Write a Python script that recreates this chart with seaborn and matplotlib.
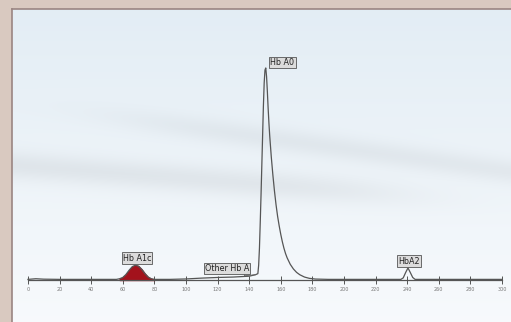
import numpy as np
import pandas as pd
import matplotlib
matplotlib.use("Agg")
import matplotlib.pyplot as plt
import seaborn as sns

# chromatogram trace (retention position, signal)
trace_x = [0, 5, 10, 20, 30, 40, 50, 56, 58, 60, 62, 64, 66, 68, 70, 72, 74, 76, 78, 80,
           90, 100, 110, 120, 130, 140, 144, 145.5, 146, 146.5, 147, 147.5, 148, 148.5,
           149, 149.5, 150, 150.5, 151, 151.5, 152, 152.5, 153, 154, 155, 156, 157, 158,
           159, 160, 161, 162, 163, 164, 166, 168, 170, 172, 175, 178, 182, 190, 200,
           220, 236, 237.5, 239, 240.5, 242, 243.5, 245, 260, 280, 300]
trace_y = [0.3, 0.6, 0.4, 0.3, 0.3, 0.3, 0.3, 0.3, 0.6, 1.2, 2.6, 4.6, 6.3, 7.0, 6.5, 5.0,
           3.0, 1.4, 0.6, 0.3, 0.3, 0.5, 0.9, 1.2, 1.4, 1.8, 2.5, 3.0, 7.0, 15.0, 27.0,
           40.0, 54.0, 68.0, 82.0, 93.0, 99.0, 100.0, 96.0, 89.0, 81.0, 74.0, 68.0, 58.0,
           49.5, 42.0, 35.5, 30.0, 25.5, 21.5, 18.0, 15.0, 12.5, 10.5, 7.4, 5.2, 3.6, 2.5,
           1.4, 0.8, 0.45, 0.3, 0.3, 0.3, 0.3, 1.0, 3.5, 5.7, 3.5, 1.2, 0.3, 0.3, 0.3, 0.3]

# HbA1c area shaded in red
a1c_range = (57, 80)

peak_labels = ["Hb A1c", "Other Hb A", "Hb A0", "HbA2"]
label_x = [69, 126, 161, 241]
label_y = [8.2, 3.4, 100.5, 6.8]

tick_values = list(range(0, 301, 20))

df = pd.DataFrame({"x": trace_x, "y": trace_y})

fig = plt.figure(figsize=(5.11, 3.22), dpi=100, facecolor="#d9c9c0")
ax = fig.add_axes([12 / 511, 0, 499 / 511, 313 / 322])

xmin, xmax = -10.1, 305.7
ymin, ymax = -19.8, 127.8
ax.set_xlim(xmin, xmax)
ax.set_ylim(ymin, ymax)

# soft bluish background with faint diagonal streaks
gy = np.linspace(0, 1, 200)[:, None]
gx = np.linspace(0, 1, 300)[None, :]
bg = np.ones((200, 300, 3))
top = np.array([0.89, 0.93, 0.96])
bot = np.array([0.97, 0.98, 0.99])
for c in range(3):
    bg[:, :, c] = top[c] + (bot[c] - top[c]) * gy
w1 = 1 / (1 + np.exp((gx - 0.75) / 0.08))
w2 = 1 / (1 + np.exp(-(gx - 0.25) / 0.08))
s1 = np.exp(-((gy - (0.50 + 0.12 * gx)) / 0.045) ** 2) * w1
s2 = np.exp(-((gy - (0.30 + 0.22 * gx)) / 0.04) ** 2) * w2
shade = 0.055 * s1 + 0.045 * s2
for c in range(3):
    bg[:, :, c] -= shade
ax.imshow(bg, extent=[xmin, xmax, ymin, ymax], origin="upper", aspect="auto",
          interpolation="bicubic", zorder=0)

sns.lineplot(data=df, x="x", y="y", color="#555555", linewidth=0.9, ax=ax, zorder=3)

mask = (df["x"] >= a1c_range[0]) & (df["x"] <= a1c_range[1])
ax.fill_between(df.loc[mask, "x"], 0, df.loc[mask, "y"], color="#a3121c", zorder=2)

for lab, lx, ly in zip(peak_labels, label_x, label_y):
    ax.text(lx, ly, lab, fontsize=5.8, color="#222222", ha="center", va="bottom", zorder=5,
            bbox=dict(boxstyle="square,pad=0.15", fc="#dcdcdc", ec="#555555", lw=0.6))

# leader line for "Other Hb A"
ax.plot([137, 137, 144], [3.6, 2.0, 2.5], color="#666666", lw=0.6, zorder=4)

# axis drawn through the baseline
for side in ["top", "right", "left"]:
    ax.spines[side].set_visible(False)
ax.spines["bottom"].set_position(("data", 0))
ax.spines["bottom"].set_bounds(0, 300)
ax.spines["bottom"].set_color("#555555")
ax.spines["bottom"].set_linewidth(0.9)
ax.set_xticks(tick_values)
ax.set_xticklabels([str(t) for t in tick_values])
ax.tick_params(axis="x", direction="inout", length=6, width=0.7, color="#555555",
               labelsize=3.5, labelcolor="#777777", pad=2)
ax.set_yticks([])
ax.set_xlabel("")
ax.set_ylabel("")

# panel frame lines at left and top
fig.add_artist(plt.Line2D([12 / 511, 12 / 511], [0, 313 / 322], color="#9a8582", lw=1.2))
fig.add_artist(plt.Line2D([12 / 511, 1], [313 / 322, 313 / 322], color="#9a8582", lw=1.2))

fig.savefig("out.png", dpi=100, facecolor=fig.get_facecolor())
